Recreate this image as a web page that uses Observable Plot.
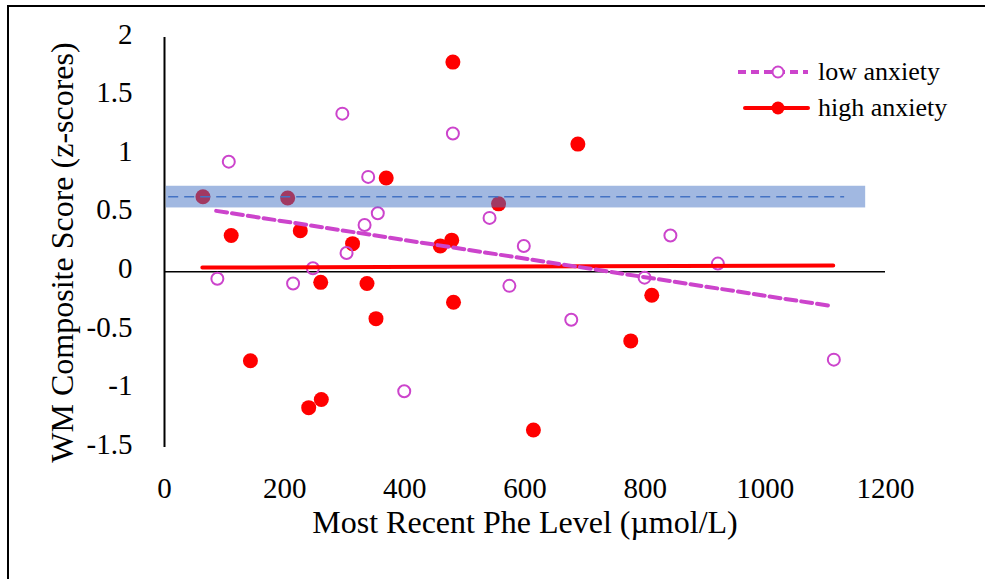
<!DOCTYPE html>
<html>
<head>
<meta charset="utf-8">
<script src="https://cdn.jsdelivr.net/npm/d3@7"></script>
<script src="https://cdn.jsdelivr.net/npm/@observablehq/plot@0.6"></script>
<style>
  html, body { margin: 0; padding: 0; background: #fff; }
  #wrap { position: relative; width: 985px; height: 579px; overflow: hidden; font-family: "Liberation Serif", "Times New Roman", serif; }
  #frame { position: absolute; left: 7px; top: 5px; width: 985px; height: 580px; border-left: 2px solid #000; border-top: 2px solid #000; box-sizing: border-box; }
  #chart { position: absolute; left: 0; top: 0; }
  #chart svg text { font-family: "Liberation Serif", "Times New Roman", serif; }
  #legend { position: absolute; left: 730px; top: 50px; }
</style>
</head>
<body>
<div id="wrap">
  <div id="frame"></div>
  <div id="chart"></div>
  <div id="legend"></div>
</div>
<script>
// ---- data ----
const lowX  = [88, 107, 214, 247, 296, 303, 333, 339, 355, 399, 480, 541, 574, 598, 677, 799, 842, 921, 1114];
const lowY  = [-0.06, 0.94, -0.10, 0.03, 1.35, 0.16, 0.40, 0.81, 0.50, -1.02, 1.18, 0.46, -0.12, 0.22, -0.41, -0.05, 0.31, 0.07, -0.75];
const highX = [64, 111, 143, 205, 226, 240, 260, 261, 313, 337, 352, 369, 459, 478, 480, 481, 556, 614, 688, 776, 811];
const highY = [0.64, 0.31, -0.76, 0.63, 0.35, -1.16, -0.09, -1.09, 0.24, -0.10, -0.40, 0.80, 0.22, 0.27, 1.79, -0.26, 0.58, -1.35, 1.09, -0.59, -0.20];
const lowTrendX  = [86, 1107];
const lowTrendY  = [0.52, -0.29];
const highTrendX = [63, 1113];
const highTrendY = [0.036, 0.054];
const bandX = [3, 1167];
const bandLow = 0.545, bandHigh = 0.73;
const meanX = [7, 1132];
const meanY = 0.64;
const xTicks = [0, 200, 400, 600, 800, 1000, 1200];
const yTicks = [-1.5, -1, -0.5, 0, 0.5, 1, 1.5, 2];
const seriesNames = ["low anxiety", "high anxiety"];

const low = lowX.map((x, i) => ({x, y: lowY[i]}));
const high = highX.map((x, i) => ({x, y: highY[i]}));
const lowTrend = lowTrendX.map((x, i) => ({x, y: lowTrendY[i]}));
const highTrend = highTrendX.map((x, i) => ({x, y: highTrendY[i]}));
const band = [{x1: bandX[0], x2: bandX[1], y1: bandLow, y2: bandHigh}];

const MAG = "#CC44CC", RED = "#FF0000", BLUE = "#4472C4";
const FONT = '"Liberation Serif", "Times New Roman", serif';

const chart = Plot.plot({
  width: 985,
  height: 579,
  marginLeft: 164,
  marginRight: 100,
  marginTop: 37,
  marginBottom: 132,
  style: {fontFamily: FONT, fontSize: "29px", color: "#000", background: "transparent", overflow: "visible"},
  x: {domain: [0, 1200], ticks: xTicks},
  y: {domain: [-1.5, 2], ticks: yTicks},
  marks: [
    Plot.axisX({ticks: xTicks, tickSize: 0, tickPadding: 30, fontSize: 29, fontFamily: FONT, label: null, tickFormat: d => String(d)}),
    Plot.axisY({ticks: yTicks, tickSize: 0, tickPadding: 32, fontSize: 29, fontFamily: FONT, label: null, tickFormat: d => String(d), dy: -3}),
    Plot.ruleY([0], {x1: 0, x2: 1200, stroke: "#000", strokeWidth: 1.5}),
    Plot.ruleX([0], {y1: -1.5, y2: 2, stroke: "#000", strokeWidth: 2}),
    Plot.dot(high, {x: "x", y: "y", r: 7.5, fill: RED, stroke: "none"}),
    Plot.dot(low, {x: "x", y: "y", r: 6, fill: "none", stroke: MAG, strokeWidth: 2}),
    Plot.line(highTrend, {x: "x", y: "y", stroke: RED, strokeWidth: 4, strokeLinecap: "round"}),
    Plot.line(lowTrend, {x: "x", y: "y", stroke: MAG, strokeWidth: 4, strokeDasharray: "11,5"}),
    Plot.rect(band, {x1: "x1", x2: "x2", y1: "y1", y2: "y2", fill: BLUE, fillOpacity: 0.5}),
    Plot.ruleY([meanY], {x1: meanX[0], x2: meanX[1], stroke: BLUE, strokeWidth: 1.5, strokeDasharray: "10,6"}),
    Plot.text(["Most Recent Phe Level (\u00b5mol/L)"], {frameAnchor: "bottom", dy: 85, fontSize: 32, fontFamily: FONT, dx: 0}),
    Plot.text(["WM Composite Score (z-scores)"], {frameAnchor: "left", textAnchor: "middle", rotate: -90, dx: -102, dy: 10, fontSize: 32, fontFamily: FONT})
  ]
});
document.getElementById("chart").appendChild(chart);

// legend
const lg = d3.select("#legend").append("svg").attr("width", 250).attr("height", 80)
  .style("font-family", FONT).style("font-size", "26px");
const g1 = lg.append("g").attr("transform", "translate(0,22)");
g1.append("line").attr("x1", 8).attr("x2", 78).attr("y1", 0).attr("y2", 0)
  .attr("stroke", MAG).attr("stroke-width", 4).attr("stroke-dasharray", "8,5");
g1.append("circle").attr("cx", 48).attr("cy", 0).attr("r", 5.5).attr("fill", "#fff").attr("stroke", MAG).attr("stroke-width", 2);
g1.append("text").attr("x", 88).attr("y", 0).attr("dy", "0.32em").text(seriesNames[0]);
const g2 = lg.append("g").attr("transform", "translate(0,58)");
g2.append("line").attr("x1", 15).attr("x2", 78).attr("y1", 0).attr("y2", 0)
  .attr("stroke", RED).attr("stroke-width", 4).attr("stroke-linecap", "round");
g2.append("circle").attr("cx", 48).attr("cy", 0).attr("r", 6.5).attr("fill", RED);
g2.append("text").attr("x", 88).attr("y", 0).attr("dy", "0.32em").text(seriesNames[1]);
</script>
</body>
</html>
